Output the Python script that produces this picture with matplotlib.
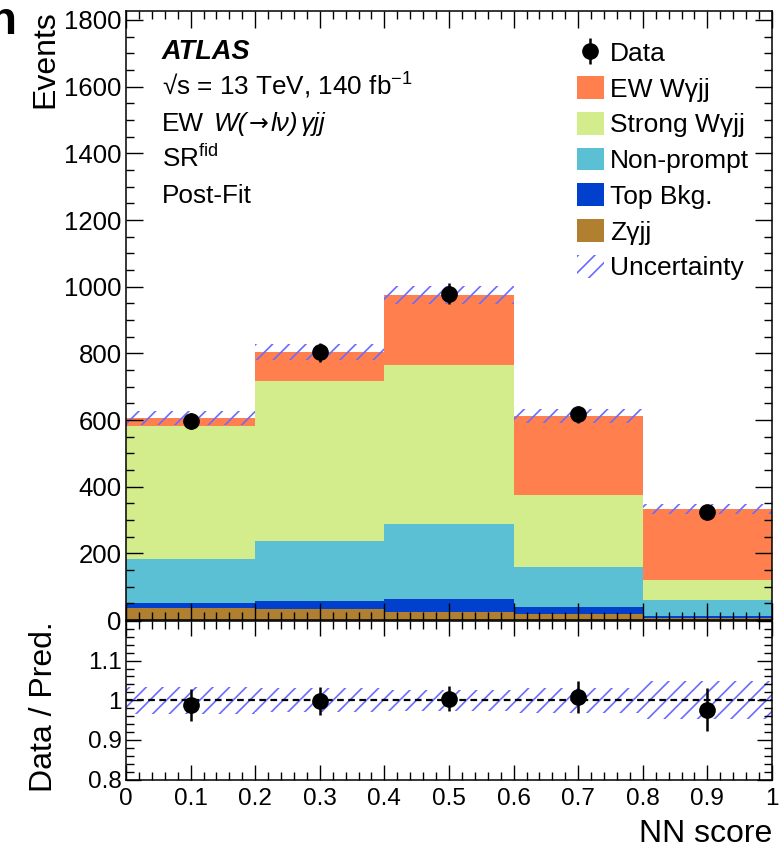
import numpy as np
import matplotlib
matplotlib.use('Agg')
import matplotlib.pyplot as plt
from matplotlib.ticker import MultipleLocator, FuncFormatter
from matplotlib.patches import Patch

# NN score binning
edges = [0.0, 0.2, 0.4, 0.6, 0.8, 1.0]
centers = [0.1, 0.3, 0.5, 0.7, 0.9]

# post-fit yields per bin
zgjj = [36, 32, 24, 18, 6]
top_bkg = [15, 24, 38, 20, 7]
non_prompt = [131, 181, 225, 120, 47]
strong_wgjj = [401, 479, 477, 216, 61]
ew_wgjj = [22, 89, 211, 238, 212]
data = [598, 803, 979, 617, 325]
unc_rel = [0.034, 0.030, 0.027, 0.032, 0.048]

plt.rcParams['font.family'] = ['Liberation Sans', 'DejaVu Sans']
plt.rcParams['mathtext.fontset'] = 'custom'
plt.rcParams['mathtext.rm'] = 'Liberation Sans'
plt.rcParams['mathtext.it'] = 'Liberation Sans:italic'
plt.rcParams['mathtext.bf'] = 'Liberation Sans:bold'
plt.rcParams['hatch.linewidth'] = 1.2
plt.rcParams['hatch.color'] = '#6b6bff'

W, H = 783, 851
fig = plt.figure(figsize=(W / 100, H / 100), dpi=100)


def fx(px):
    return px / W


def fy(px):
    return 1 - px / H


ax = fig.add_axes([fx(126), fy(620), fx(772) - fx(126), fy(11) - fy(620)])
rax = fig.add_axes([fx(126), fy(779.5), fx(772) - fx(126), fy(621) - fy(779.5)])

stack = [
    (zgjj, '#b07f30', 'Zγjj'),
    (top_bkg, '#0040cc', 'Top Bkg.'),
    (non_prompt, '#5bc0d3', 'Non-prompt'),
    (strong_wgjj, '#d3ec8c', 'Strong Wγjj'),
    (ew_wgjj, '#ff7f4f', 'EW Wγjj'),
]

base = np.zeros(len(centers))
handles = {}
for vals, col, lab in stack:
    top = base + np.array(vals)
    ax.stairs(top, edges, baseline=base, fill=True, color=col, lw=0)
    handles[lab] = Patch(facecolor=col, edgecolor='none')
    base = top
pred = base

unc = pred * np.array(unc_rel)
hatch_col = '#6b6bff'
ax.stairs(pred + unc, edges, baseline=pred - unc, fill=True, facecolor='none',
          edgecolor=hatch_col, hatch='//', lw=0)

data = np.array(data, dtype=float)
derr = np.sqrt(data)
dh = ax.errorbar(centers, data, yerr=derr, fmt='o', color='k', ms=11,
                 elinewidth=1.8, capsize=0, zorder=5)

ax.set_xlim(0, 1)
ax.set_ylim(0, 1827)
ax.yaxis.set_major_locator(MultipleLocator(200))
ax.yaxis.set_minor_locator(MultipleLocator(50))
ax.xaxis.set_major_locator(MultipleLocator(0.1))
ax.xaxis.set_minor_locator(MultipleLocator(0.02))
ax.tick_params(which='both', direction='in', top=True, right=True)
ax.tick_params(which='major', length=12, width=1.0, labelsize=18.5, pad=3)
ax.tick_params(which='minor', length=6, width=1.0)
ax.tick_params(axis='x', labelbottom=False)
for s in ax.spines.values():
    s.set_linewidth(1.1)

leg_handles = [dh, handles['EW Wγjj'], handles['Strong Wγjj'], handles['Non-prompt'],
               handles['Top Bkg.'], handles['Zγjj'],
               Patch(facecolor='none', edgecolor=hatch_col, hatch='//', lw=0)]
leg_labels = ['Data', 'EW Wγjj', 'Strong Wγjj', 'Non-prompt', 'Top Bkg.', 'Zγjj', 'Uncertainty']
ax.legend(leg_handles, leg_labels, loc='upper left', bbox_to_anchor=(fx(577), fy(40.5)),
          bbox_transform=fig.transFigure, frameon=False, fontsize=19,
          handlelength=1.02, handleheight=0.95, handletextpad=0.24,
          labelspacing=0.39, borderpad=0, borderaxespad=0)

# labels on the left of the main panel
txt_x = fx(162)
fig.text(txt_x, fy(59), 'ATLAS', fontsize=19.5, fontweight='bold', fontstyle='italic', va='baseline')
fig.text(txt_x, fy(95), '√s = 13 TeV, 140 fb$^{-1}$', fontsize=18.8, va='baseline')
fig.text(txt_x, fy(131), 'EW', fontsize=18.8, va='baseline')

# process string built piece by piece so the arrow keeps a full-size glyph
renderer = fig.canvas.get_renderer()
pieces = [('W(', dict(fontstyle='italic'), 1),
          ('→', dict(family='DejaVu Sans', fontsize=17), 2),
          ('lν)', dict(fontstyle='italic'), 3),
          ('γjj', dict(fontstyle='italic'), 0)]
xpos = 214
for s, kw, gap in pieces:
    opts = dict(fontsize=18.8, va='baseline')
    opts.update(kw)
    t = fig.text(fx(xpos), fy(131), s, **opts)
    xpos = t.get_window_extent(renderer).x1 + gap

fig.text(txt_x, fy(167), 'SR$^{\\mathrm{fid}}$', fontsize=18.8, va='baseline')
fig.text(txt_x, fy(203), 'Post-Fit', fontsize=18.8, va='baseline')

fig.text(fx(60), fy(10), 'Events', rotation=90, ha='right', va='top', fontsize=23)

# ratio panel
ratio = data / pred
ratio_err = derr / pred
rel = np.array(unc_rel)
rax.stairs(1 + rel, edges, baseline=1 - rel, fill=True, facecolor='none',
           edgecolor=hatch_col, hatch='//', lw=0)
rax.axhline(1.0, color='k', ls=(0, (3, 2)), lw=1.6)
rax.errorbar(centers, ratio, yerr=ratio_err, fmt='o', color='k', ms=11,
             elinewidth=1.8, capsize=0, zorder=5)

rax.set_xlim(0, 1)
rax.set_ylim(0.8, 1.2)
rax.yaxis.set_major_locator(MultipleLocator(0.1))
rax.yaxis.set_minor_locator(MultipleLocator(0.02))
rax.xaxis.set_major_locator(MultipleLocator(0.1))
rax.xaxis.set_minor_locator(MultipleLocator(0.02))
fmt = FuncFormatter(lambda v, p: '' if v > 1.15 else f'{v:g}')
rax.yaxis.set_major_formatter(fmt)
rax.xaxis.set_major_formatter(FuncFormatter(lambda v, p: f'{v:g}'))
rax.tick_params(which='both', direction='in', top=True, right=True)
rax.tick_params(which='major', length=11, width=1.0, labelsize=17.5)
rax.tick_params(which='minor', length=6, width=1.0)
rax.tick_params(axis='x', pad=6)
rax.tick_params(axis='y', pad=3)
for s in rax.spines.values():
    s.set_linewidth(1.1)

fig.text(fx(59), fy(707), 'Data / Pred.', rotation=90, ha='right', va='center', fontsize=23)
fig.text(fx(772), fy(842), 'NN score', ha='right', va='baseline', fontsize=23)

# cut-off panel letter in the corner
fig.text(fx(-11), fy(34), 'n', fontsize=33, fontweight='bold', va='baseline', ha='left')

fig.savefig('out.png', dpi=100)
